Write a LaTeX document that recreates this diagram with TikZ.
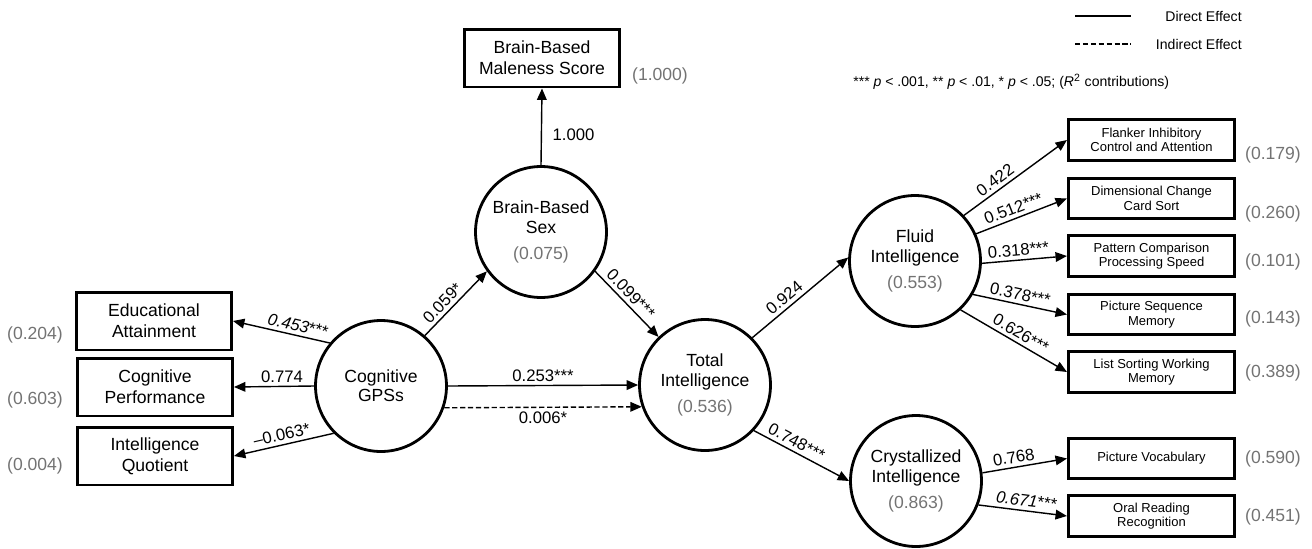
\documentclass[tikz,border=0pt]{standalone}
\usepackage{fontspec}
\setmainfont{Liberation Sans}
\usetikzlibrary{arrows.meta}
\definecolor{rsqgray}{gray}{0.45}
\tikzset{
latent/.style={circle, draw, line width=1.6pt, minimum size=2.62cm, inner sep=0pt, align=center, font=\fontsize{10}{11}\selectfont},
obs/.style={rectangle, draw, line width=1.7pt, minimum width=3.1cm, minimum height=1.16cm, inner sep=0pt, align=center, font=\fontsize{10}{12}\selectfont},
task/.style={rectangle, draw, line width=1.5pt, minimum width=3.33cm, minimum height=0.81cm, inner sep=0pt, align=center, font=\fontsize{7.4}{8.3}\selectfont},
rsq/.style={text=rsqgray, inner sep=0pt, font=\fontsize{10}{12}\selectfont},
coef/.style={inner sep=2pt, font=\fontsize{9.5}{11}\selectfont},
effect/.style={-{Triangle[length=6.5pt,width=5.5pt]}, line width=0.8pt},
indirect/.style={effect, dash pattern=on 3pt off 1.5pt},
legendtext/.style={inner sep=0pt, font=\fontsize{8}{10}\selectfont}
}

\begin{document}
\begin{tikzpicture}[x=0.02cm, y=-0.02cm]
\useasboundingbox (0,0) rectangle (1312,548);

\node [latent] (GPS) at (381,386) {Cognitive\\GPSs};
\node [latent] (BBS) at (541,232) {Brain-Based\\Sex\\[4pt]\textcolor{rsqgray}{(0.075)}};
\node [latent] (TI) at (705,385) {Total\\Intelligence\\[4pt]\textcolor{rsqgray}{(0.536)}};
\node [latent] (FI) at (915,261) {Fluid\\Intelligence\\[4pt]\textcolor{rsqgray}{(0.553)}};
\node [latent] (CI) at (916,481) {Crystallized\\Intelligence\\[4pt]\textcolor{rsqgray}{(0.863)}};

\node [obs] (EA) at (154,321) {Educational\\Attainment};
\node [obs] (CP) at (155,387) {Cognitive\\Performance};
\node [obs] (IQ) at (155,456) {Intelligence\\Quotient};
\node [obs] (BBMS) at (542,58) {Brain-Based\\Maleness Score};

\node [rsq] (EAr) at (35,335) {(0.204)};
\node [rsq] (CPr) at (35,400) {(0.603)};
\node [rsq] (IQr) at (35,466) {(0.004)};
\node [rsq] (BBMSr) at (660,76) {(1.000)};

\node [task] (FIC) at (1151.5,140) {Flanker Inhibitory\\Control and Attention};
\node [task] (DCCS) at (1151.5,198.5) {Dimensional Change\\Card Sort};
\node [task] (PCPS) at (1151.5,256) {Pattern Comparison\\Processing Speed};
\node [task] (PSM) at (1151.5,314.5) {Picture Sequence\\Memory};
\node [task] (LSWM) at (1151.5,372) {List Sorting Working\\Memory};
\node [task] (PV) at (1151.5,458.5) {Picture Vocabulary};
\node [task] (ORR) at (1151.5,516) {Oral Reading\\Recognition};

\node [rsq] (FICr) at (1273,155) {(0.179)};
\node [rsq] (DCCSr) at (1273,214) {(0.260)};
\node [rsq] (PCPSr) at (1273,262) {(0.101)};
\node [rsq] (PSMr) at (1273,319) {(0.143)};
\node [rsq] (LSWMr) at (1273,373) {(0.389)};
\node [rsq] (PVr) at (1273,459) {(0.590)};
\node [rsq] (ORRr) at (1273,517) {(0.451)};

\draw [effect] (GPS.140) -- (EA.east) node [coef, pos=0.35, above, sloped] {\textit{0.453}***};
\draw [effect] (GPS.west) -- (CP.east) node [coef, pos=0.4, above] {0.774};
\draw [effect] (GPS.225) -- (IQ.east) node [coef, pos=0.5, above, sloped] {--0.063*};
\draw [effect] (GPS.49) -- (BBS.216) node [coef, pos=0.4, above, sloped] {0.059*};
\draw [effect] (BBS.north) -- (BBMS.south) node [coef, pos=0.4, right=4pt] {1.000};
\draw [effect] (BBS.-36) -- (TI.134) node [coef, pos=0.45, above, sloped] {0.099***};
\draw [effect] (GPS.east) -- (TI.west) node [coef, midway, above] {0.253***};
\draw [indirect] (GPS.-19) -- (TI.199) node [coef, midway, below] {0.006*};
\draw [effect] (TI.45) -- (FI.177) node [coef, pos=0.4, above, sloped] {0.924};
\draw [effect] (TI.-43) -- (CI.west) node [coef, pos=0.4, above, sloped] {0.748***};

\draw [effect] (FI.43) -- (FIC.west) node [coef, pos=0.36, above, sloped] {0.422};
\draw [effect] (FI.24) -- (DCCS.west) node [coef, pos=0.45, above, sloped] {0.512***};
\draw [effect] (FI.-2) -- (PCPS.west) node [coef, pos=0.44, above, sloped] {0.318***};
\draw [effect] (FI.-30) -- (PSM.west) node [coef, pos=0.48, above, sloped] {0.378***};
\draw [effect] (FI.-47) -- (LSWM.west) node [coef, pos=0.52, above, sloped] {0.626***};
\draw [effect] (CI.7) -- (PV.west) node [coef, pos=0.39, above, sloped] {0.768};
\draw [effect] (CI.-21) -- (ORR.west) node [coef, pos=0.53, above, sloped] {\textit{0.671}***};

\coordinate (dirA) at (1075,16);
\coordinate (dirB) at (1131,16);
\draw [line width=1pt] (dirA) -- (dirB);
\node [legendtext, anchor=east] (dirlab) at (1242,16) {Direct Effect};
\coordinate (indA) at (1075,44);
\coordinate (indB) at (1131,44);
\draw [line width=1pt, dash pattern=on 3pt off 1.5pt] (indA) -- (indB);
\node [legendtext, anchor=east] (indlab) at (1242,44) {Indirect Effect};
\node [legendtext, anchor=west] (note) at (853,82) {*** \textit{p} < .001, ** \textit{p} < .01, * \textit{p} < .05; (\textit{R}\textsuperscript{2} contributions)};
\end{tikzpicture}
\end{document}
